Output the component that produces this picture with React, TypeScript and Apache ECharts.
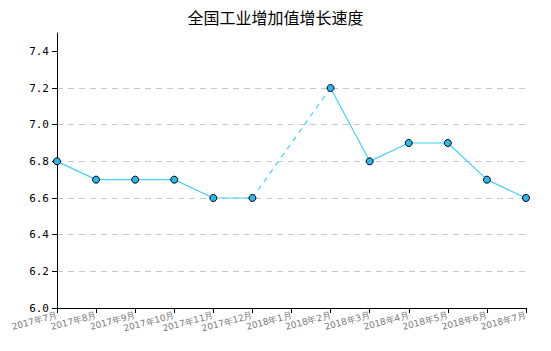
import React, { useEffect, useRef } from "react";
import * as echarts from "echarts";

const titleText = "全国工业增加值增长速度";
const categories = [
  "2017年7月", "2017年8月", "2017年9月", "2017年10月", "2017年11月", "2017年12月",
  "2018年1月", "2018年2月", "2018年3月", "2018年4月", "2018年5月", "2018年6月", "2018年7月",
];
const growth: (number | null)[] = [6.8, 6.7, 6.7, 6.7, 6.6, 6.6, null, 7.2, 6.8, 6.9, 6.9, 6.7, 6.6];
const bridge: (number | null)[] = [null, null, null, null, null, 6.6, null, 7.2, null, null, null, null, null];
const yTicks = [6.0, 6.2, 6.4, 6.6, 6.8, 7.0, 7.2, 7.4];

export default function App() {
  const ref = useRef<HTMLDivElement>(null);
  useEffect(() => {
    if (!ref.current) return;
    const chart = echarts.init(ref.current, null, { renderer: "svg" });
    chart.setOption({
      animation: false,
      title: {
        text: titleText,
        left: "center",
        top: 4,
        textStyle: { fontSize: 16, fontWeight: "normal", color: "#000", fontFamily: "Noto Sans CJK SC" },
      },
      grid: { left: 57, right: 25, top: 33, bottom: 43 },
      xAxis: {
        type: "category",
        data: categories,
        boundaryGap: false,
        axisLine: { lineStyle: { color: "#000", width: 1 } },
        axisTick: { alignWithLabel: true, length: 5, lineStyle: { color: "#000" } },
        axisLabel: {
          rotate: 15,
          interval: 0,
          fontSize: 9,
          color: "#777",
          margin: 7,
          fontFamily: "DejaVu Sans",
        },
      },
      yAxis: {
        type: "value",
        min: 6.0,
        max: 7.5,
        interval: 0.2,
        axisLine: { show: true, lineStyle: { color: "#000", width: 1 } },
        axisTick: { show: true, length: 5, lineStyle: { color: "#000" }, customValues: yTicks },
        axisLabel: {
          customValues: yTicks,
          formatter: (v: number) => v.toFixed(1),
          color: "#000",
          fontSize: 11,
          margin: 8,
          fontFamily: "DejaVu Sans Mono",
        },
        splitLine: {
          show: true,
          showMaxLine: false,
          lineStyle: { color: "#c8c8c8", type: [6, 5], width: 1 },
        },
      },
      series: [
        {
          type: "line",
          data: bridge,
          connectNulls: true,
          symbol: "none",
          lineStyle: { color: "#45d0fb", width: 1.2, type: [5, 5] },
          z: 1,
        },
        {
          type: "line",
          data: growth,
          connectNulls: false,
          symbol: "circle",
          symbolSize: 7,
          lineStyle: { color: "#45d0fb", width: 1.2 },
          itemStyle: { color: "#2ab8ee", borderColor: "#000", borderWidth: 1 },
          z: 2,
        },
      ],
    });
    return () => chart.dispose();
  }, []);
  return <div ref={ref} style={{ width: 551, height: 351, position: "absolute", left: 0, top: 0 }} />;
}
